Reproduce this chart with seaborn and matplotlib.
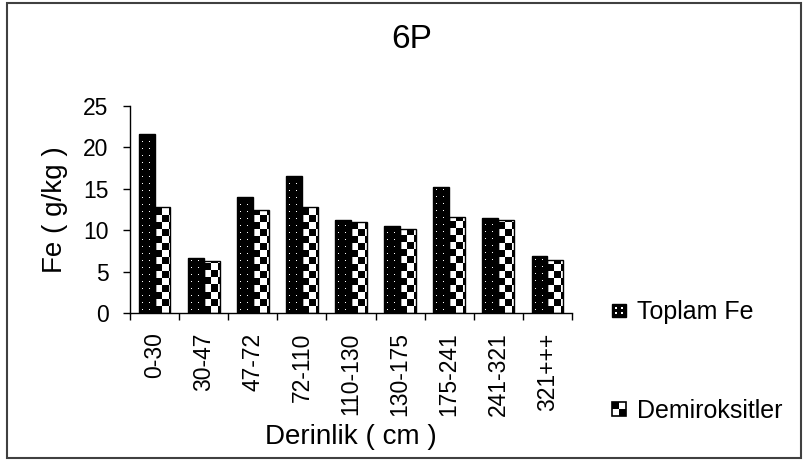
import numpy as np
import pandas as pd
import seaborn as sns
import matplotlib
matplotlib.use("Agg")
import matplotlib.pyplot as plt
from matplotlib.patches import Rectangle
from matplotlib.legend_handler import HandlerBase

# Depth intervals (cm) and iron contents (g/kg)
depths = ["0-30", "30-47", "47-72", "72-110", "110-130",
          "130-175", "175-241", "241-321", "321+++"]
toplam_fe = [21.6, 6.6, 14.0, 16.5, 11.2, 10.5, 15.25, 11.5, 6.9]
demiroksitler = [12.8, 6.3, 12.4, 12.8, 10.95, 10.2, 11.6, 11.2, 6.4]
series = ["Toplam Fe", "Demiroksitler"]
y_ticks = [0, 5, 10, 15, 20, 25]

sns.set_theme(style="ticks")
plt.rcParams["font.family"] = ["Liberation Sans", "DejaVu Sans"]

df = pd.DataFrame({
    "Derinlik": depths * 2,
    "Fe": toplam_fe + demiroksitler,
    "Seri": [series[0]] * len(depths) + [series[1]] * len(depths),
})

W, H = 805, 461
fig = plt.figure(figsize=(W / 100, H / 100), dpi=100)
fig.patch.set_facecolor("white")
ax = fig.add_axes([130 / W, 1 - 313 / H, 442 / W, 207 / H])

sns.barplot(data=df, x="Derinlik", y="Fe", hue="Seri", order=depths,
            hue_order=series, palette=["black", "white"], saturation=1,
            width=0.645, edgecolor="black", linewidth=1.0, legend=False,
            ax=ax)

ax.set_ylim(0, 25)
ax.set_xlim(-0.5, len(depths) - 0.5)
ax.set_yticks(y_ticks)
ax.set_yticklabels([str(v) for v in y_ticks])

# pixel textures: dotted black and checkerboard
fig.canvas.draw()
for bar in list(ax.patches):
    fc = bar.get_facecolor()
    bb = bar.get_window_extent()
    w = max(int(round(bb.width)), 1)
    h = max(int(round(bb.height)), 1)
    yy, xx = np.mgrid[0:h, 0:w]
    if fc[0] < 0.5:
        tex = np.zeros((h, w))
        tex[(yy % 7 == 3) & (xx % 7 == 3)] = 1.0
    else:
        tex = ((xx // 7 + yy // 7) % 2).astype(float)
    x0, y0 = bar.get_x(), bar.get_y()
    im = ax.imshow(tex, cmap="gray", vmin=0, vmax=1, origin="lower",
                   extent=(x0, x0 + bar.get_width(), y0, y0 + bar.get_height()),
                   aspect="auto", interpolation="nearest",
                   zorder=bar.get_zorder() + 0.1)
    im.set_clip_path(bar)
    bar.set_facecolor("none")
    bar.set_zorder(bar.get_zorder() + 0.2)

ax.set_ylim(0, 25)
ax.set_xlim(-0.5, len(depths) - 0.5)
ax.set_aspect("auto")

# axes styling
for side in ["top", "right"]:
    ax.spines[side].set_visible(False)
for side in ["left", "bottom"]:
    ax.spines[side].set_color("black")
    ax.spines[side].set_linewidth(1.0)

ax.tick_params(axis="y", direction="out", length=5, width=1.0,
               color="black", labelsize=16.5, pad=10.5, labelcolor="black")
ax.tick_params(axis="x", which="major", length=0, labelsize=16.5,
               pad=14, labelrotation=90, labelcolor="black")
ax.set_xticks(np.arange(-0.5, len(depths), 1.0), minor=True)
ax.tick_params(axis="x", which="minor", direction="out", length=5,
               width=1.0, color="black")

ax.set_ylabel("Fe ( g/kg )", fontsize=20, color="black")
ax.yaxis.set_label_coords((55 - 130) / 442, 0.5)
ax.yaxis.label.set_va("center")
ax.set_xlabel("Derinlik ( cm )", fontsize=20, color="black")
ax.xaxis.set_label_coords(0.5, (313 - 437) / 207)
ax.xaxis.label.set_va("center")

fig.text(412 / W, 1 - 40 / H, "6P", ha="center", va="center",
         fontsize=24, color="black")


class SwatchHandler(HandlerBase):
    def __init__(self, kind):
        super().__init__()
        self.kind = kind

    def create_artists(self, legend, orig_handle, xdescent, ydescent,
                       width, height, fontsize, trans):
        s = min(width, height)
        x0 = -xdescent + (width - s) / 2
        y0 = -ydescent + (height - s) / 2
        arts = []
        if self.kind == "dots":
            arts.append(Rectangle((x0, y0), s, s, facecolor="black",
                                  edgecolor="black", lw=1.0, transform=trans))
            d = s * 0.15
            for fx, fy in [(0.3, 0.3), (0.7, 0.3), (0.3, 0.7), (0.7, 0.7)]:
                arts.append(Rectangle((x0 + fx * s - d / 2, y0 + fy * s - d / 2),
                                      d, d, facecolor="white", lw=0,
                                      transform=trans))
        else:
            arts.append(Rectangle((x0, y0), s, s, facecolor="white",
                                  edgecolor="black", lw=1.2, transform=trans))
            hs = s / 2
            arts.append(Rectangle((x0, y0 + hs), hs, hs, facecolor="black",
                                  lw=0, transform=trans))
            arts.append(Rectangle((x0 + hs, y0), hs, hs, facecolor="black",
                                  lw=0, transform=trans))
        return arts


h_fe = Rectangle((0, 0), 1, 1)
h_dm = Rectangle((0, 0), 1, 1)
fig.legend([h_fe, h_dm], series,
           handler_map={h_fe: SwatchHandler("dots"), h_dm: SwatchHandler("checker")},
           loc="center left", bbox_to_anchor=(612 / W, 1 - 361.5 / H),
           frameon=False, fontsize=18, borderpad=0, borderaxespad=0,
           handlelength=0.55, handleheight=0.55, handletextpad=0.45,
           labelspacing=2.98, labelcolor="black")

# outer frame
fig.add_artist(Rectangle((7 / W, 3 / H), (801 - 7) / W, (458 - 3) / H,
                         transform=fig.transFigure, fill=False,
                         edgecolor="#404040", linewidth=1.5))

fig.savefig("out.png", dpi=100, facecolor="white")
